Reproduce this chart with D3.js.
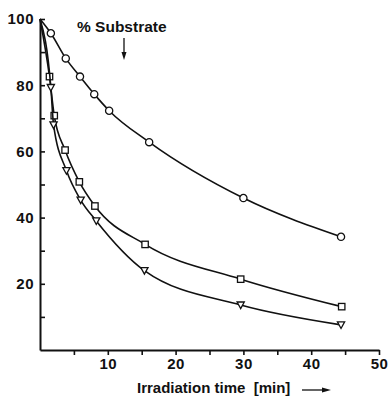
<!DOCTYPE html>
<html>
<head>
<meta charset="utf-8">
<script src="https://cdn.jsdelivr.net/npm/d3@7"></script>
<style>
  body { margin: 0; background: #fff; }
  text { font-family: "Liberation Sans", Arial, sans-serif; fill: #111; white-space: pre; }
</style>
</head>
<body>
<div id="chart"></div>
<script>
/* DATA */
// irradiation time [min] and % substrate
const timeCircle = [0, 1.6, 3.8, 5.9, 8.0, 10.2, 16.1, 30.0, 44.4];
const substrateCircle = [100, 95.7, 88.1, 82.6, 77.3, 72.3, 62.8, 45.9, 34.2];
const timeSquare = [0, 1.4, 2.1, 3.7, 5.8, 8.1, 15.5, 29.6, 44.5];
const substrateSquare = [100, 82.6, 70.8, 60.4, 50.8, 43.5, 31.9, 21.4, 13.1];
const timeTriangle = [0, 1.6, 2.0, 3.9, 6.0, 8.3, 15.4, 29.6, 44.4];
const substrateTriangle = [100, 79.3, 68.0, 54.2, 45.3, 39.0, 24.0, 13.6, 7.6];

const xTicks = [5, 10, 15, 20, 25, 30, 35, 40, 45, 50];
const yTicks = [10, 20, 30, 40, 50, 60, 70, 80, 90, 100];
const yLabel = "% Substrate";
const xLabel = "Irradiation time  [min]";

/* CONSTANTS */
const width = 391, height = 397;

const svg = d3.select("#chart")
  .append("svg")
  .attr("width", width)
  .attr("height", height);

const xScale = d3.scaleLinear().domain([0, 50]).range([40, 379]);
const yScale = d3.scaleLinear().domain([0, 100]).range([350, 19]);

// x axis, ticks every 5, labels every 10
const xAxis = d3.axisBottom(xScale)
  .tickValues(xTicks)
  .tickSize(5)
  .tickSizeOuter(0)
  .tickPadding(3)
  .tickFormat(d => d % 10 === 0 ? d : "");

const xAxisGroup = svg.append("g")
  .attr("transform", `translate(0, ${yScale(0)})`)
  .call(xAxis);

// y axis, ticks pointing inward
const yAxis = d3.axisLeft(yScale)
  .tickValues(yTicks)
  .tickSize(-5)
  .tickSizeOuter(0)
  .tickPadding(6)
  .tickFormat(d => d % 20 === 0 ? d : "");

const yAxisGroup = svg.append("g")
  .attr("transform", `translate(${xScale(0)}, 0)`)
  .call(yAxis);

[xAxisGroup, yAxisGroup].forEach(g => {
  g.select(".domain").attr("stroke", "#111").attr("stroke-width", 2);
  g.selectAll(".tick line").attr("stroke", "#111").attr("stroke-width", 1.6);
  g.selectAll(".tick text")
    .attr("font-size", 15)
    .attr("font-weight", "bold")
    .attr("letter-spacing", 0.5)
    .attr("fill", "#111");
});

/* SERIES */
const series = [
  { name: "circle", t: timeCircle, s: substrateCircle },
  { name: "square", t: timeSquare, s: substrateSquare },
  { name: "triangle", t: timeTriangle, s: substrateTriangle }
];

const lineGen = d3.line()
  .x(d => xScale(d[0]))
  .y(d => yScale(d[1]))
  .curve(d3.curveMonotoneX);

series.forEach(sr => {
  const pts = sr.t.map((t, i) => [t, sr.s[i]]);

  svg.append("path")
    .datum(pts)
    .attr("d", lineGen)
    .attr("fill", "none")
    .attr("stroke", "#111")
    .attr("stroke-width", 1.6);

  // markers (first point sits on the axis corner, no marker)
  const marks = svg.selectAll("g.mark-" + sr.name)
    .data(pts.slice(1))
    .join("g")
    .attr("class", "mark-" + sr.name)
    .attr("transform", d => `translate(${xScale(d[0])}, ${yScale(d[1])})`);

  if (sr.name === "circle") {
    marks.append("circle").attr("r", 3.6);
  } else if (sr.name === "square") {
    marks.append("rect").attr("x", -3.2).attr("y", -3.2).attr("width", 6.4).attr("height", 6.4);
  } else {
    marks.append("path").attr("d", "M-3.6,-3 L3.6,-3 L0,3.6 Z");
  }
  marks.selectAll("*")
    .attr("fill", "#fff")
    .attr("stroke", "#111")
    .attr("stroke-width", 1.3);
});

/* LABELS */
svg.append("text")
  .attr("x", 77)
  .attr("y", 32)
  .attr("font-size", 15.5)
  .attr("font-weight", "bold")
  .text(yLabel);

// arrow under the y label
svg.append("line")
  .attr("x1", 124).attr("x2", 124)
  .attr("y1", 38).attr("y2", 56)
  .attr("stroke", "#111").attr("stroke-width", 1.3);
svg.append("path")
  .attr("d", "M121.5,52 L126.5,52 L124,60 Z")
  .attr("fill", "#111");

svg.append("text")
  .attr("x", 137)
  .attr("y", 393)
  .attr("font-size", 15)
  .attr("font-weight", "bold")
  .text(xLabel);

// arrow after the x label
svg.append("line")
  .attr("x1", 302).attr("x2", 326)
  .attr("y1", 390).attr("y2", 390)
  .attr("stroke", "#111").attr("stroke-width", 1.3);
svg.append("path")
  .attr("d", "M322,387.5 L322,392.5 L331,390 Z")
  .attr("fill", "#111");
</script>
</body>
</html>
